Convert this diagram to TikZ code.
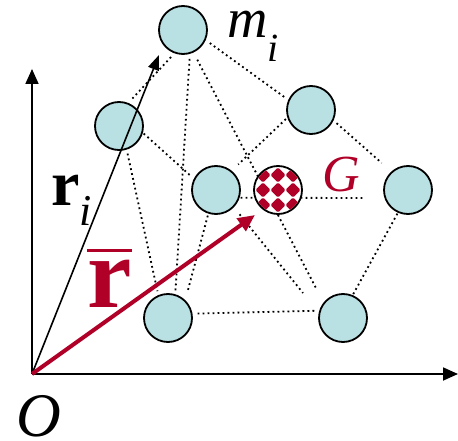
\documentclass[tikz,border=0pt]{standalone}
\usepackage{fontspec}
\setmainfont{Liberation Serif}
\usetikzlibrary{arrows.meta}
\definecolor{massfill}{RGB}{185,224,227}
\definecolor{centrered}{RGB}{176,0,40}

\begin{document}
\begin{tikzpicture}[x=1pt, y=-1pt,
  mass/.style={circle, draw, line width=1.8pt, fill=massfill, minimum size=48pt, inner sep=0pt},
  link/.style={line width=1.8pt, dash pattern=on 1.8pt off 3.2pt},
  axis/.style={line width=1.8pt, -{Triangle[length=15pt,width=13pt]}},
  big/.style={inner sep=0pt, anchor=base west}]
  \useasboundingbox (0,0) rectangle (458,441);

  \coordinate (origin) at (32,374);
  \coordinate (x-end) at (458,374);
  \coordinate (y-end) at (32,69);
  \coordinate (tip-ri) at (159,55);
  \coordinate (tip-rbar) at (255,215);
  \coordinate (hidden-a) at (317,290);
  \coordinate (hidden-b) at (303,293);
  \coordinate (g-end) at (363,198);

  \node[mass] (mass-top) at (183,30) {};
  \node[mass] (mass-left) at (119,126) {};
  \node[mass] (mass-back) at (311,110) {};
  \node[mass] (mass-mid) at (216,190) {};
  \node[mass] (mass-right) at (408,190) {};
  \node[mass] (mass-low) at (168,318) {};
  \node[mass] (mass-front) at (343,318) {};

  \draw[link, shorten <=5pt, shorten >=6pt] (mass-top.250) -- (mass-left.68);
  \draw[link, shorten <=5pt, shorten >=3pt] (mass-top.-24) -- (mass-back.156);
  \draw[link, shorten <=5pt, shorten >=3pt] (mass-top.-74) -- (mass-low.73);
  \draw[link, shorten <=8pt] (mass-top.-65) -- (hidden-a);
  \draw[link, shorten <=1pt, shorten >=3pt] (mass-left.-16) -- (mass-mid.153);
  \draw[link, shorten <=4pt, shorten >=4pt] (mass-left.-72) -- (mass-low.113);
  \draw[link, shorten <=2pt, shorten >=9pt] (mass-back.198) -- (mass-mid.51);
  \draw[link, shorten <=4pt, shorten >=13pt] (mass-back.-25) -- (mass-right.132);
  \draw[link, shorten <=2pt, shorten >=10pt] (mass-mid.252) -- (mass-low.46);
  \draw[link, shorten <=9pt] (mass-mid.-44) -- (hidden-b);
  \draw[link, shorten <=1pt] (mass-mid.-18) -- (g-end);
  \draw[link, shorten <=1pt] (mass-right.246) -- (mass-front.67);
  \draw[link, shorten <=5pt, shorten >=3pt] (mass-low.10) -- (mass-front.163);

  \node[mass, fill=white] (center-g) at (278,190) {};
  \begin{scope}[shift={(278,190)}]
    \clip (0,0) circle (23);
    \foreach \i in {-1,0,1}
      \foreach \j in {-1,0,1}
        \fill[centrered, rounded corners=1.5pt] (15*\i-7.6,15*\j) -- (15*\i,15*\j-7.6) -- (15*\i+7.6,15*\j) -- (15*\i,15*\j+7.6) -- cycle;
  \end{scope}

  \draw[axis] (origin) -- (y-end);
  \draw[axis] (origin) -- (x-end);
  \draw[line width=1.6pt, -{Triangle[length=15pt,width=11pt]}] (origin) -- (tip-ri);
  \draw[centrered, line width=4pt, -{Triangle[length=17pt,width=15pt]}] (origin) -- (tip-rbar);

  \node[big] (label-m) at (227,38) {\fontsize{56}{56}\selectfont\itshape m\raisebox{-24pt}{\fontsize{40}{40}\selectfont i}};
  \node[big] (label-ri) at (51,205) {\fontsize{64}{64}\selectfont\bfseries r\raisebox{-20pt}{\fontsize{44}{44}\selectfont\mdseries\itshape i}};
  \node[big, text=centrered] (label-rbar) at (87,307) {\fontsize{100}{100}\selectfont\rlap{\rule[55pt]{45pt}{3pt}}\bfseries r};
  \node[big, text=centrered] (label-g) at (322,192) {\fontsize{52}{52}\selectfont\itshape G};
  \node[big] (label-o) at (16,436) {\fontsize{62}{62}\selectfont\itshape O};
\end{tikzpicture}
\end{document}
